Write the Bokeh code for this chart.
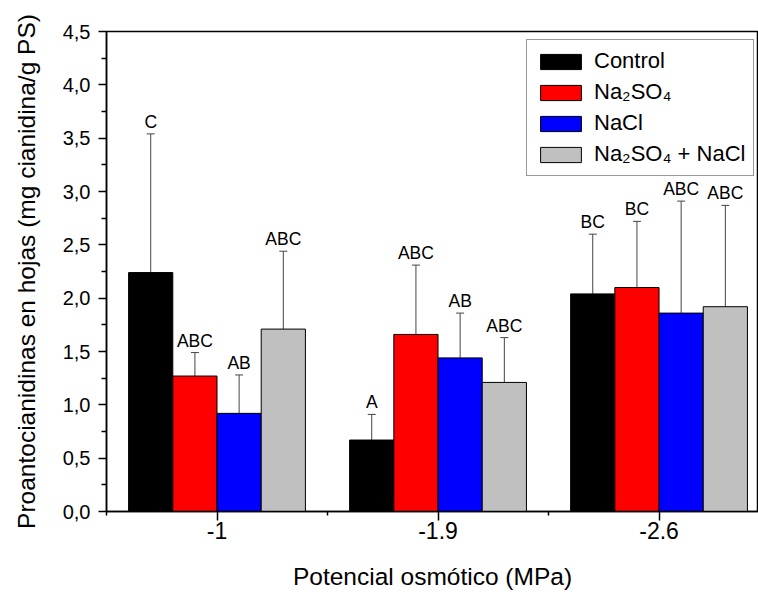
from bokeh.plotting import figure
from bokeh.models import (ColumnDataSource, FixedTicker, CustomJSTickFormatter,
                          Whisker, TeeHead, Legend, LegendItem)
from bokeh.transform import dodge
from bokeh.core.properties import value
from bokeh.embed import file_html
from bokeh.resources import INLINE

# ---------------- data ----------------
groups = ["-1", "-1.9", "-2.6"]
series = ["Control", "Na\u2082SO\u2084", "NaCl", "Na\u2082SO\u2084 + NaCl"]

control = [2.24, 0.67, 2.04]
control_sd = [1.30, 0.24, 0.56]
control_letters = ["C", "A", "BC"]

na2so4 = [1.27, 1.66, 2.10]
na2so4_sd = [0.22, 0.65, 0.62]
na2so4_letters = ["ABC", "ABC", "BC"]

nacl = [0.92, 1.44, 1.86]
nacl_sd = [0.36, 0.42, 1.05]
nacl_letters = ["AB", "AB", "ABC"]

mix = [1.71, 1.21, 1.92]
mix_sd = [0.73, 0.42, 0.95]
mix_letters = ["ABC", "ABC", "ABC"]

y_ticks = [0.0, 0.5, 1.0, 1.5, 2.0, 2.5, 3.0, 3.5, 4.0, 4.5]

means = [control, na2so4, nacl, mix]
sds = [control_sd, na2so4_sd, nacl_sd, mix_sd]
letters = [control_letters, na2so4_letters, nacl_letters, mix_letters]
colors = ["#000000", "#FF0000", "#0000FF", "#C0C0C0"]
offsets = [-0.3, -0.1, 0.1, 0.3]

FONT = "Liberation Sans"

p = figure(width=758, height=595, x_range=(0.5, 3.45), y_range=(0, 4.5),
           output_backend="svg", toolbar_location=None,
           min_border_left=106, min_border_right=0, min_border_top=31,
           min_border_bottom=84)

pos = list(range(1, len(groups) + 1))
renderers = []
for m, s, lt, col, off in zip(means, sds, letters, colors, offsets):
    src = ColumnDataSource(dict(g=pos, mean=m, upper=[a + b for a, b in zip(m, s)], letter=lt))
    xs = dodge("g", off, range=p.x_range)
    r = p.vbar(x=xs, top="mean", width=0.2, bottom=0, source=src,
               fill_color=col, line_color="black", line_width=1)
    renderers.append(r)
    w = Whisker(base=xs, upper="upper", lower="mean", source=src,
                line_color="#444444", line_width=1,
                upper_head=TeeHead(size=8, line_color="#444444", line_width=1),
                lower_head=None)
    p.add_layout(w)
    p.text(x=xs, y="upper", text="letter", source=src, text_align="center",
           text_baseline="bottom", y_offset=-2, text_font=value(FONT),
           text_font_size="17.5px", text_color="black")

legend = Legend(items=[LegendItem(label=lab, renderers=[r]) for lab, r in zip(series, renderers)],
                location=(420, 335), label_text_font=FONT, label_text_font_size="22px",
                label_text_color="black",
                glyph_width=51, glyph_height=19, label_height=19, spacing=5, padding=8,
                margin=0, label_standoff=8, border_line_color="#333333", border_line_width=1,
                background_fill_color="white", background_fill_alpha=1)
p.add_layout(legend)

p.xgrid.visible = False
p.ygrid.visible = False
p.outline_line_color = "black"
p.outline_line_width = 1.5

p.xaxis.ticker = FixedTicker(ticks=pos, minor_ticks=[0.5, 1.5, 2.5, 3.5])
p.xaxis.major_label_overrides = {i: g for i, g in zip(pos, groups)}
p.yaxis.ticker = FixedTicker(ticks=y_ticks, minor_ticks=[t + 0.25 for t in y_ticks[:-1]])
p.yaxis.formatter = CustomJSTickFormatter(code="return tick.toFixed(1).replace('.', ',')")

for ax in (p.xaxis[0], p.yaxis[0]):
    ax.axis_line_color = "black"
    ax.axis_line_width = 1.5
    ax.major_tick_line_color = "black"
    ax.minor_tick_line_color = "black"
    ax.major_tick_line_width = 1.5
    ax.minor_tick_line_width = 1.5
    ax.major_tick_in = 0
    ax.minor_tick_in = 0
    ax.major_label_text_font = FONT
    ax.major_label_text_color = "black"
    ax.axis_label_text_font = FONT
    ax.axis_label_text_font_size = "24.5px"
    ax.axis_label_text_font_style = "normal"
    ax.axis_label_text_color = "black"

p.yaxis.major_label_text_font_size = "20px"
p.yaxis.major_tick_out = 8
p.yaxis.minor_tick_out = 5
p.yaxis.major_label_standoff = 8
p.yaxis.axis_label = "Proantocianidinas en hojas (mg cianidina/g PS)"
p.yaxis.axis_label_standoff = 20

p.xaxis.major_label_text_font_size = "23px"
p.xaxis.major_tick_out = 9
p.xaxis.minor_tick_out = 4
p.xaxis.major_label_standoff = 1
p.xaxis.axis_label = "Potencial osmótico (MPa)"
p.xaxis.axis_label_standoff = 21

open("out.html", "w").write(file_html(p, INLINE))
